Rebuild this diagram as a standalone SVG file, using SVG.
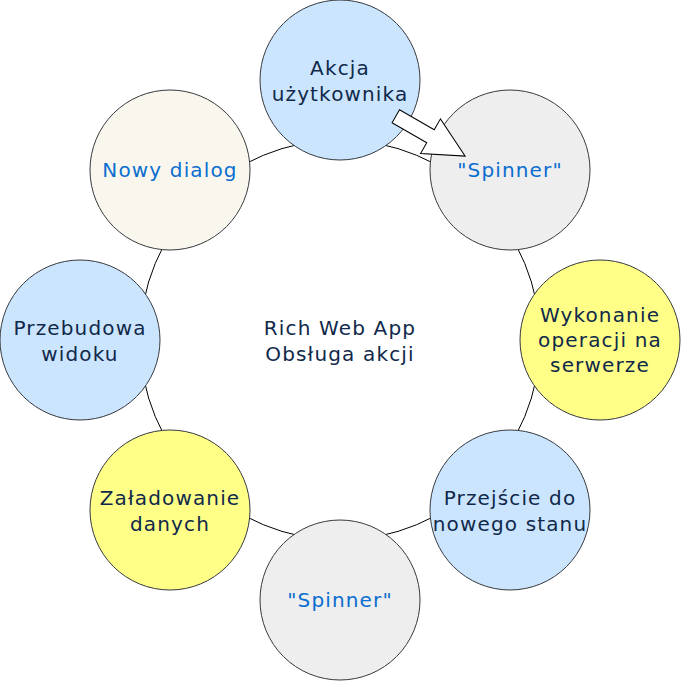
<svg xmlns="http://www.w3.org/2000/svg" width="681" height="681" viewBox="0 0 681 681">
<style>
.n{stroke:#36393d;stroke-width:1}
.blue{fill:#cce5ff}
.grey{fill:#eeeeee}
.yel{fill:#ffff88}
.beige{fill:#f9f7ed}
text{font-family:"DejaVu Sans",Verdana,sans-serif;font-size:20px;letter-spacing:1.15px;text-anchor:middle}
.d{fill:#10294a}
.b{fill:#0a6dd0}
</style>
<rect width="681" height="681" fill="#ffffff"/>
<g id="connectors">
<circle cx="340" cy="340" r="200" fill="none" stroke="#000000" stroke-width="1"/>
</g>
<g id="center"><text class="d" x="340" y="335">Rich Web App</text><text class="d" x="340" y="361">Obsługa akcji</text></g>
<g id="n1"><circle class="n blue" cx="340" cy="80" r="80"/><text class="d" x="340" y="75">Akcja</text><text class="d" x="340" y="101">użytkownika</text></g>
<g id="n2"><circle class="n grey" cx="510" cy="170" r="80"/><text class="b" x="510" y="177">"Spinner"</text></g>
<g id="n3"><circle class="n yel" cx="600" cy="340" r="80"/><text class="d" x="600" y="322">Wykonanie</text><text class="d" x="600" y="347">operacji na</text><text class="d" x="600" y="372">serwerze</text></g>
<g id="n4"><circle class="n blue" cx="510" cy="510" r="80"/><text class="d" x="510" y="505">Przejście do</text><text class="d" x="510" y="531">nowego stanu</text></g>
<g id="n5"><circle class="n grey" cx="340" cy="600" r="80"/><text class="b" x="340" y="607">"Spinner"</text></g>
<g id="n6"><circle class="n yel" cx="170" cy="510" r="80"/><text class="d" x="170" y="505">Załadowanie</text><text class="d" x="170" y="531">danych</text></g>
<g id="n7"><circle class="n blue" cx="80" cy="340" r="80"/><text class="d" x="80" y="335">Przebudowa</text><text class="d" x="80" y="361">widoku</text></g>
<g id="n8"><circle class="n beige" cx="170" cy="170" r="80"/><text class="b" x="170" y="177">Nowy dialog</text></g>
<g id="arrow">
<polygon transform="translate(395.8,116.3) rotate(29.85)" points="0,-7.5 40,-7.5 40,-20 80,0 40,20 40,7.5 0,7.5" fill="#ffffff" stroke="#000000" stroke-width="1" stroke-linejoin="miter"/>
</g>
</svg>
